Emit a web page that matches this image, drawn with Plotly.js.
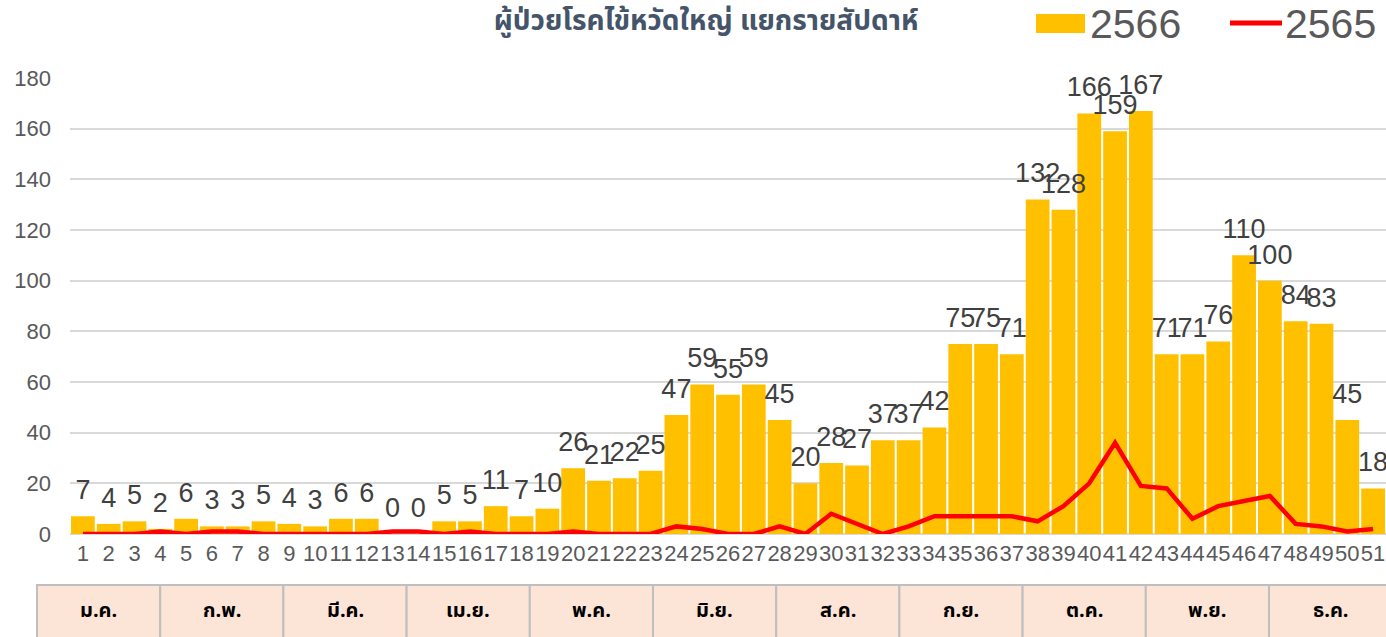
<!DOCTYPE html>
<html><head><meta charset="utf-8">
<script src="https://cdn.plot.ly/plotly-3.0.1.min.js"></script>
<style>html,body{margin:0;padding:0;background:#fff;} #chart{width:1386px;height:637px;}</style>
</head><body><div id="chart"></div>
<script>
const titleText = 'ผู้ป่วยโรคไข้หวัดใหญ่ แยกรายสัปดาห์';
const weeks = ['1','2','3','4','5','6','7','8','9','10','11','12','13','14','15','16','17','18','19','20','21','22','23','24','25','26','27','28','29','30','31','32','33','34','35','36','37','38','39','40','41','42','43','44','45','46','47','48','49','50','51'];
const cases2566 = [7,4,5,2,6,3,3,5,4,3,6,6,0,0,5,5,11,7,10,26,21,22,25,47,59,55,59,45,20,28,27,37,37,42,75,75,71,132,128,166,159,167,71,71,76,110,100,84,83,45,18];
const cases2565 = [0,0,0,1,0,1,1,0,0,0,0,0,1,1,0,1,0,0,0,1,0,0,0,3,2,0,0,3,0,8,4,0,3,7,7,7,7,5,11,20,36,19,18,6,11,13,15,4,3,1,2];
const seriesNames = ['2566','2565'];
const months = ['ม.ค.','ก.พ.','มี.ค.','เม.ย.','พ.ค.','มิ.ย.','ส.ค.','ก.ย.','ต.ค.','พ.ย.','ธ.ค.'];
const yTicks = [0,20,40,60,80,100,120,140,160,180];

const W = 1386, H = 637;
const M = {l: 70, r: 0, t: 78, b: 103};
const pw = W - M.l - M.r, ph = H - M.t - M.b;
const px = x => (x - M.l) / pw;
const py = y => (H - M.b - y) / ph;

const numFont = 'Liberation Sans, Arial, sans-serif';
const thaiFont = 'Noto Sans Thai, Tahoma, Noto Sans, sans-serif';
const YELLOW = '#FFC000', RED = '#FF0000';

const traces = [
  {type: 'bar', x: weeks, y: cases2566, name: seriesNames[0], marker: {color: YELLOW}, showlegend: false, hoverinfo: 'x+y'},
  {type: 'scatter', mode: 'lines', x: weeks, y: cases2565, name: seriesNames[1], line: {color: RED, width: 4.5}, showlegend: false},
  {type: 'scatter', mode: 'markers+text', x: weeks, y: cases2566, text: cases2566.map(String), textposition: 'top center',
   marker: {size: 15, opacity: 0}, textfont: {family: numFont, size: 27, color: '#404040'}, showlegend: false, hoverinfo: 'skip', cliponaxis: false}
];

const shapes = [];
const annotations = [];
// month table below the axis
const cellL = 37, cellW = 123.2, cellTop = 585, cellBot = 645;
months.forEach((m, i) => {
  const x0 = cellL + i * cellW, x1 = x0 + cellW;
  shapes.push({type: 'rect', xref: 'paper', yref: 'paper', x0: px(x0), x1: px(i === months.length - 1 ? x1 + 20 : x1), y0: py(cellBot), y1: py(cellTop),
    fillcolor: '#FCE4D6', line: {color: '#BFBFBF', width: 2}, layer: 'above'});
  annotations.push({xref: 'paper', yref: 'paper', x: px((x0 + x1) / 2), y: py(611), text: '<b>' + m + '</b>', showarrow: false,
    xanchor: 'center', yanchor: 'middle', font: {family: thaiFont, size: 20, color: '#000000'}});
});
// custom legend
shapes.push({type: 'rect', xref: 'paper', yref: 'paper', x0: px(1036), x1: px(1085), y0: py(33), y1: py(14), fillcolor: YELLOW, line: {width: 0}});
shapes.push({type: 'line', xref: 'paper', yref: 'paper', x0: px(1230), x1: px(1282), y0: py(23), y1: py(23), line: {color: RED, width: 5}});
annotations.push({xref: 'paper', yref: 'paper', x: px(1088), y: py(24), text: seriesNames[0], showarrow: false, xanchor: 'left', yanchor: 'middle',
  font: {family: numFont, size: 41, color: '#595959'}});
annotations.push({xref: 'paper', yref: 'paper', x: px(1283), y: py(24), text: seriesNames[1], showarrow: false, xanchor: 'left', yanchor: 'middle',
  font: {family: numFont, size: 41, color: '#595959'}});

const layout = {
  width: W, height: H,
  margin: M,
  paper_bgcolor: '#ffffff', plot_bgcolor: '#ffffff',
  title: {text: '<b>' + titleText + '</b>', x: 706 / W, xanchor: 'center', y: 1 - 20 / H, yanchor: 'middle',
    font: {family: thaiFont, size: 28, color: '#44546A'}},
  showlegend: false,
  bargap: 0.08,
  xaxis: {type: 'category', range: [-0.5, weeks.length - 0.5], tickmode: 'array', tickvals: weeks, ticktext: weeks,
    showgrid: false, zeroline: false, showline: false, ticks: '', ticklabelstandoff: 4,
    tickfont: {family: numFont, size: 22, color: '#595959'}, tickangle: 0, fixedrange: true},
  yaxis: {range: [0, 180], tickvals: yTicks, showgrid: true, gridcolor: '#D9D9D9', gridwidth: 2,
    zeroline: true, zerolinecolor: '#D9D9D9', zerolinewidth: 2, showline: false, ticks: '',
    ticklabelstandoff: 18, tickfont: {family: numFont, size: 22, color: '#595959'}, fixedrange: true},
  shapes: shapes,
  annotations: annotations
};

Plotly.newPlot('chart', traces, layout, {displayModeBar: false, staticPlot: true});
</script>
</body></html>
